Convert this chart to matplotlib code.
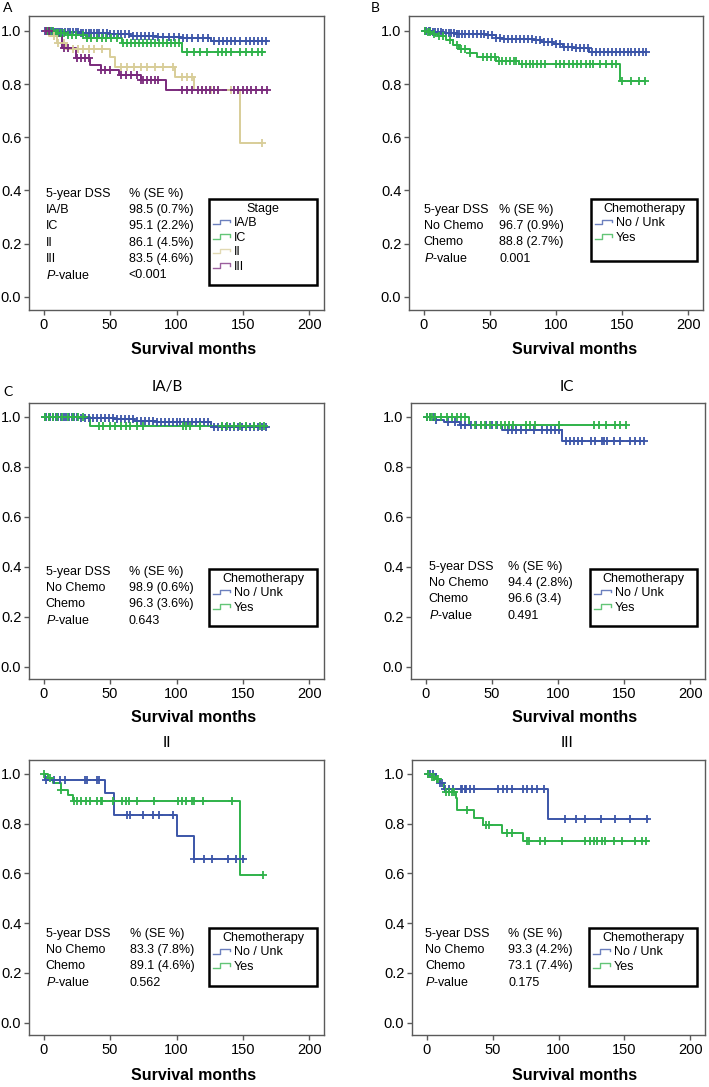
"""
kaplan-meier curves, disease specific survival by stage and chemotherapy
"""

import numpy as np
import matplotlib
matplotlib.use("Agg")
import matplotlib.pyplot as plt
from matplotlib.legend_handler import HandlerBase
from matplotlib.lines import Line2D
from matplotlib.patches import Rectangle

plt.rcParams['font.family'] = ['Liberation Sans', 'DejaVu Sans']
plt.rcParams['mathtext.fontset'] = 'custom'
plt.rcParams['mathtext.it'] = 'Liberation Sans:italic'
plt.rcParams['mathtext.rm'] = 'Liberation Sans'

BLUE = '#3b55a8'
GREEN = '#2fb24a'
TAN = '#d8cd98'
PURPLE = '#7a2a7c'

# ---- panel A: by stage ----
a_iab_times = [8, 28, 50, 65, 85, 103, 126]
a_iab_surv = [0.996, 0.991, 0.987, 0.982, 0.976, 0.972, 0.962]
a_iab_end = 168
a_iab_cens = [1, 2, 3, 5, 6, 8, 9, 11, 12, 14, 16, 18, 20, 22, 24, 26, 28, 30, 32, 34, 36, 38,
              40, 42, 45, 48, 50, 53, 56, 58, 61, 64, 67, 70, 73, 76, 79, 82, 86, 90, 94, 98,
              102, 105, 108, 112, 116, 120, 124, 128, 132, 135, 138, 141, 144, 148, 152, 155,
              158, 161, 164, 167]

a_ic_times = [8, 18, 33, 59, 104]
a_ic_surv = [0.991, 0.986, 0.972, 0.956, 0.920]
a_ic_end = 166
a_ic_cens = [3, 5, 7, 9, 11, 13, 15, 18, 21, 24, 30, 33, 36, 40, 44, 47, 51, 55, 60, 63, 66,
             69, 72, 75, 78, 81, 84, 87, 90, 93, 96, 99, 102, 108, 113, 118, 123, 131, 134,
             137, 141, 148, 152, 157, 161, 164]

a_ii_times = [4, 10, 17, 50, 54, 99, 113, 148]
a_ii_surv = [0.98, 0.955, 0.93, 0.90, 0.866, 0.826, 0.776, 0.58]
a_ii_end = 164
a_ii_cens = [2, 8, 11, 15, 22, 26, 30, 34, 38, 44, 58, 63, 68, 73, 78, 84, 90, 97, 104, 108,
             112, 119, 126, 131, 141, 164]

a_iii_times = [8, 14, 24, 35, 43, 57, 73, 92]
a_iii_surv = [0.981, 0.935, 0.897, 0.872, 0.853, 0.835, 0.816, 0.778]
a_iii_end = 168
a_iii_cens = [2, 4, 15, 18, 25, 28, 31, 34, 43, 46, 50, 58, 62, 66, 70, 73, 75, 78, 81, 84,
              86, 104, 108, 112, 116, 119, 122, 125, 128, 131, 143, 146, 150, 153, 156, 160,
              164, 168]

# ---- panel B: all stages, chemo vs none ----
b_no_times = [7, 15, 25, 47, 55, 60, 83, 89, 98, 105, 113, 125]
b_no_surv = [0.996, 0.991, 0.987, 0.984, 0.975, 0.969, 0.964, 0.957, 0.950, 0.941, 0.934, 0.922]
b_no_end = 168
b_no_cens = [1, 2, 4, 5, 7, 9, 11, 13, 15, 17, 19, 21, 23, 25, 27, 29, 31, 34, 37, 40, 43, 46,
             49, 52, 55, 58, 61, 64, 67, 70, 73, 76, 79, 82, 85, 88, 91, 94, 97, 100, 103,
             106, 109, 112, 115, 118, 121, 124, 127, 130, 133, 136, 139, 142, 145, 148, 151,
             154, 157, 160, 163, 166, 168]

b_yes_times = [2, 6, 11, 17, 22, 27, 35, 40, 55, 72, 148]
b_yes_surv = [0.995, 0.987, 0.979, 0.966, 0.947, 0.931, 0.916, 0.901, 0.887, 0.875, 0.81]
b_yes_end = 167
b_yes_cens = [1, 3, 5, 8, 12, 15, 20, 25, 28, 31, 35, 45, 48, 51, 54, 57, 59, 62, 65, 68, 70,
              74, 77, 80, 83, 86, 89, 92, 100, 103, 106, 110, 113, 116, 119, 123, 126, 128,
              133, 138, 142, 145, 150, 157, 163, 167]

# ---- panel C: IA/B ----
c1_no_times = [28, 53, 68, 85, 126]
c1_no_surv = [0.995, 0.99, 0.985, 0.978, 0.96]
c1_no_end = 168
c1_no_cens = [1, 2, 4, 5, 7, 9, 11, 13, 15, 17, 19, 21, 23, 25, 28, 31, 34, 37, 40, 43, 46, 49,
              52, 55, 58, 61, 64, 67, 70, 73, 76, 79, 82, 85, 88, 91, 94, 97, 100, 103, 106,
              109, 112, 115, 118, 121, 124, 128, 131, 134, 137, 140, 143, 146, 149, 152, 155,
              158, 161, 164, 167]

c1_yes_times = [35]
c1_yes_surv = [0.963]
c1_yes_end = 166
c1_yes_cens = [1, 4, 7, 10, 14, 18, 22, 26, 30, 42, 45, 50, 54, 58, 62, 65, 70, 75, 105, 107,
               110, 118, 134, 138, 143, 148, 152, 158, 163, 166]

# ---- panel C: IC ----
c2_no_times = [8, 14, 26, 58, 103]
c2_no_surv = [0.988, 0.978, 0.966, 0.947, 0.905]
c2_no_end = 165
c2_no_cens = [1, 3, 6, 8, 17, 22, 27, 30, 34, 38, 42, 46, 50, 54, 62, 65, 68, 72, 76, 82, 88,
              92, 95, 98, 101, 106, 109, 112, 115, 118, 125, 128, 133, 135, 137, 142, 147,
              154, 158, 162, 165]

c2_yes_times = [33]
c2_yes_surv = [0.966]
c2_yes_end = 151
c2_yes_cens = [1, 3, 5, 7, 12, 16, 20, 24, 27, 30, 37, 42, 45, 49, 53, 57, 60, 63, 66, 76, 79,
               83, 101, 127, 131, 136, 143, 147, 151]

# ---- panel C: II ----
c3_no_times = [1, 46, 53, 100, 113]
c3_no_surv = [0.975, 0.925, 0.833, 0.75, 0.659]
c3_no_end = 151
c3_no_cens = [2, 8, 12, 16, 31, 33, 40, 42, 63, 65, 75, 82, 87, 97, 113, 121, 127, 139, 145,
              150]

c3_yes_times = [3, 7, 13, 18, 22, 148]
c3_yes_surv = [0.983, 0.964, 0.934, 0.916, 0.89, 0.593]
c3_yes_end = 165
c3_yes_cens = [0, 5, 13, 23, 25, 28, 32, 35, 40, 43, 44, 52, 59, 62, 64, 70, 83, 101, 104, 107,
               112, 113, 120, 142, 165]

# ---- panel C: III ----
c4_no_times = [7, 10, 13, 92]
c4_no_surv = [0.979, 0.965, 0.938, 0.82]
c4_no_end = 168
c4_no_cens = [1, 3, 5, 8, 10, 12, 14, 17, 20, 26, 27, 29, 30, 33, 36, 54, 58, 61, 65, 73, 76,
              80, 84, 89, 105, 113, 120, 132, 143, 154, 167]

c4_yes_times = [4, 7, 10, 13, 14, 22, 23, 36, 43, 57, 73]
c4_yes_surv = [0.989, 0.979, 0.965, 0.945, 0.929, 0.905, 0.854, 0.822, 0.795, 0.764, 0.731]
c4_yes_end = 168
c4_yes_cens = [1, 4, 6, 8, 9, 15, 17, 19, 21, 31, 45, 47, 61, 65, 76, 78, 86, 90, 103, 120, 124,
               127, 129, 133, 135, 142, 148, 158, 163, 166]

stage_labels = ['IA/B', 'IC', 'II', 'III']
chemo_labels = ['No / Unk', 'Yes']

a_table = [('5-year DSS', '% (SE %)'), ('IA/B', '98.5 (0.7%)'), ('IC', '95.1 (2.2%)'),
           ('II', '86.1 (4.5%)'), ('III', '83.5 (4.6%)'), ('$P$-value', '<0.001')]
b_table = [('5-year DSS', '% (SE %)'), ('No Chemo', '96.7 (0.9%)'), ('Chemo', '88.8 (2.7%)'),
           ('$P$-value', '0.001')]
c1_table = [('5-year DSS', '% (SE %)'), ('No Chemo', '98.9 (0.6%)'), ('Chemo', '96.3 (3.6%)'),
            ('$P$-value', '0.643')]
c2_table = [('5-year DSS', '% (SE %)'), ('No Chemo', '94.4 (2.8%)'), ('Chemo', '96.6 (3.4)'),
            ('$P$-value', '0.491')]
c3_table = [('5-year DSS', '% (SE %)'), ('No Chemo', '83.3 (7.8%)'), ('Chemo', '89.1 (4.6%)'),
            ('$P$-value', '0.562')]
c4_table = [('5-year DSS', '% (SE %)'), ('No Chemo', '93.3 (4.2%)'), ('Chemo', '73.1 (7.4%)'),
            ('$P$-value', '0.175')]

W, H = 709, 1087


class StepHandler(HandlerBase):
    """little step-shaped line for the legend, like spss draws it"""

    def create_artists(self, legend, orig_handle, xdescent, ydescent,
                       width, height, fontsize, trans):
        x0 = -xdescent
        y0 = -ydescent
        xs = [x0, x0 + width * 0.4, x0 + width * 0.4, x0 + width, x0 + width]
        ys = [y0 + height * 0.2, y0 + height * 0.2, y0 + height * 0.75,
              y0 + height * 0.75, y0 + height * 0.45]
        line = Line2D(xs, ys, color=orig_handle.get_color(), lw=1.0, alpha=0.75,
                      transform=trans)
        return [line]


def km(ax, times, surv, end, cens, color):
    """draws one kaplan-meier curve with censor ticks"""
    xs = [0] + list(times) + [end]
    ys = [1.0] + list(surv) + [surv[-1]]
    ax.step(xs, ys, where='post', color=color, lw=1.4, zorder=3)
    t = np.array(xs[:-1])
    lv = np.array(ys[:-1])
    c = np.array(cens, dtype=float)
    idx = np.searchsorted(t, c, side='right') - 1
    ax.plot(c, lv[idx], ls='none', marker='+', ms=6, mew=1.3, color=color, zorder=4)
    return Line2D([], [], color=color)


def style_axes(ax):
    ax.set_xlim(-11, 211)
    ax.set_ylim(-0.05, 1.056)
    ax.set_xticks([0, 50, 100, 150, 200])
    ax.set_yticks([0.0, 0.2, 0.4, 0.6, 0.8, 1.0])
    ax.set_yticklabels(['0.0', '0.2', '0.4', '0.6', '0.8', '1.0'])
    for s in ax.spines.values():
        s.set_color('#5a5a5a')
        s.set_linewidth(1.0)
    ax.tick_params(direction='out', length=3.5, width=1, color='#5a5a5a',
                   labelsize=10.5, pad=2)


def table(ax, rows, x1, x2, ytop):
    for i, (a, b) in enumerate(rows):
        ax.annotate(a, (x1, ytop), xycoords='data', textcoords='offset points',
                    xytext=(0, -11.7 * i), ha='left', va='center', fontsize=9)
        ax.annotate(b, (x2, ytop), xycoords='data', textcoords='offset points',
                    xytext=(0, -11.7 * i), ha='left', va='center', fontsize=9)


def legend(ax, handles, labels, title, box):
    # box drawn by hand so its size matches the spss output
    x0, y0, w, h = box
    ax.add_patch(Rectangle((x0, y0), w, h, transform=ax.transAxes, fill=True,
                           facecolor='white', edgecolor='black', lw=1.8, zorder=5))
    leg = ax.legend(handles, labels, title=title, loc='upper left',
                    bbox_to_anchor=(x0, y0, w, h), mode='expand', fontsize=9,
                    title_fontsize=9, frameon=False, handlelength=1.4,
                    handletextpad=0.3, labelspacing=0.2, borderpad=0.3,
                    borderaxespad=0, handler_map={Line2D: StepHandler()})
    leg.set_zorder(6)
    return leg


def rect(left, top, right, bottom):
    return [left / W, 1 - bottom / H, (right - left) / W, (bottom - top) / H]


fig = plt.figure(figsize=(W / 100, H / 100), dpi=100)

axA = fig.add_axes(rect(29, 16, 324, 310))
axB = fig.add_axes(rect(409, 16, 703, 310))
ax1 = fig.add_axes(rect(29, 403, 324, 679))
ax2 = fig.add_axes(rect(411, 403, 705, 679))
ax3 = fig.add_axes(rect(29, 760, 324, 1035))
ax4 = fig.add_axes(rect(412, 760, 705, 1035))

for ax in [axA, axB, ax1, ax2, ax3, ax4]:
    style_axes(ax)

# panel A
h = [km(axA, a_iab_times, a_iab_surv, a_iab_end, a_iab_cens, BLUE),
     km(axA, a_ic_times, a_ic_surv, a_ic_end, a_ic_cens, GREEN),
     km(axA, a_ii_times, a_ii_surv, a_ii_end, a_ii_cens, TAN),
     km(axA, a_iii_times, a_iii_surv, a_iii_end, a_iii_cens, PURPLE)]
table(axA, a_table, 1.5, 64, 0.387)
legend(axA, h, stage_labels, 'Stage', (0.61, 0.085, 0.366, 0.293))

# panel B
h = [km(axB, b_no_times, b_no_surv, b_no_end, b_no_cens, BLUE),
     km(axB, b_yes_times, b_yes_surv, b_yes_end, b_yes_cens, GREEN)]
table(axB, b_table, 0, 57, 0.327)
legend(axB, h, chemo_labels, 'Chemotherapy', (0.619, 0.167, 0.361, 0.211))

# panel C subpanels
subs = [
    (ax1, c1_no_times, c1_no_surv, c1_no_end, c1_no_cens,
     c1_yes_times, c1_yes_surv, c1_yes_end, c1_yes_cens, c1_table, 1.5, 64, 0.379,
     (0.61, 0.192, 0.366, 0.207)),
    (ax2, c2_no_times, c2_no_surv, c2_no_end, c2_no_cens,
     c2_yes_times, c2_yes_surv, c2_yes_end, c2_yes_cens, c2_table, 2.3, 62, 0.399,
     (0.609, 0.192, 0.364, 0.207)),
    (ax3, c3_no_times, c3_no_surv, c3_no_end, c3_no_cens,
     c3_yes_times, c3_yes_surv, c3_yes_end, c3_yes_cens, c3_table, 1.5, 65, 0.357,
     (0.61, 0.178, 0.366, 0.211)),
    (ax4, c4_no_times, c4_no_surv, c4_no_end, c4_no_cens,
     c4_yes_times, c4_yes_surv, c4_yes_end, c4_yes_cens, c4_table, -1, 62, 0.357,
     (0.604, 0.178, 0.369, 0.211)),
]
for (ax, nt, ns, ne, nc, yt, ys, ye, yc, tab, x1, x2, ytop, box) in subs:
    h = [km(ax, nt, ns, ne, nc, BLUE), km(ax, yt, ys, ye, yc, GREEN)]
    table(ax, tab, x1, x2, ytop)
    legend(ax, h, chemo_labels, 'Chemotherapy', box)

# x labels
for (x, y) in [(194, 350), (575, 350), (194, 718), (575, 718), (194, 1075), (575, 1075)]:
    fig.text(x / W, 1 - y / H, 'Survival months', ha='center', va='center',
             fontsize=11.5, fontweight='bold')

# sub titles
for (x, y, s) in [(167, 387, 'IA/B'), (567, 387, 'IC'), (167, 743, 'II'), (567, 743, 'III')]:
    fig.text(x / W, 1 - y / H, s, ha='center', va='center', fontsize=11,
             family=['Lato', 'DejaVu Sans'])

# panel letters
for (x, y, s) in [(8, 8, 'A'), (375, 8, 'B'), (8, 392, 'C')]:
    fig.text(x / W, 1 - y / H, s, ha='center', va='center', fontsize=10,
             family=['Lato', 'DejaVu Sans'])

fig.savefig('out.png', dpi=100)
